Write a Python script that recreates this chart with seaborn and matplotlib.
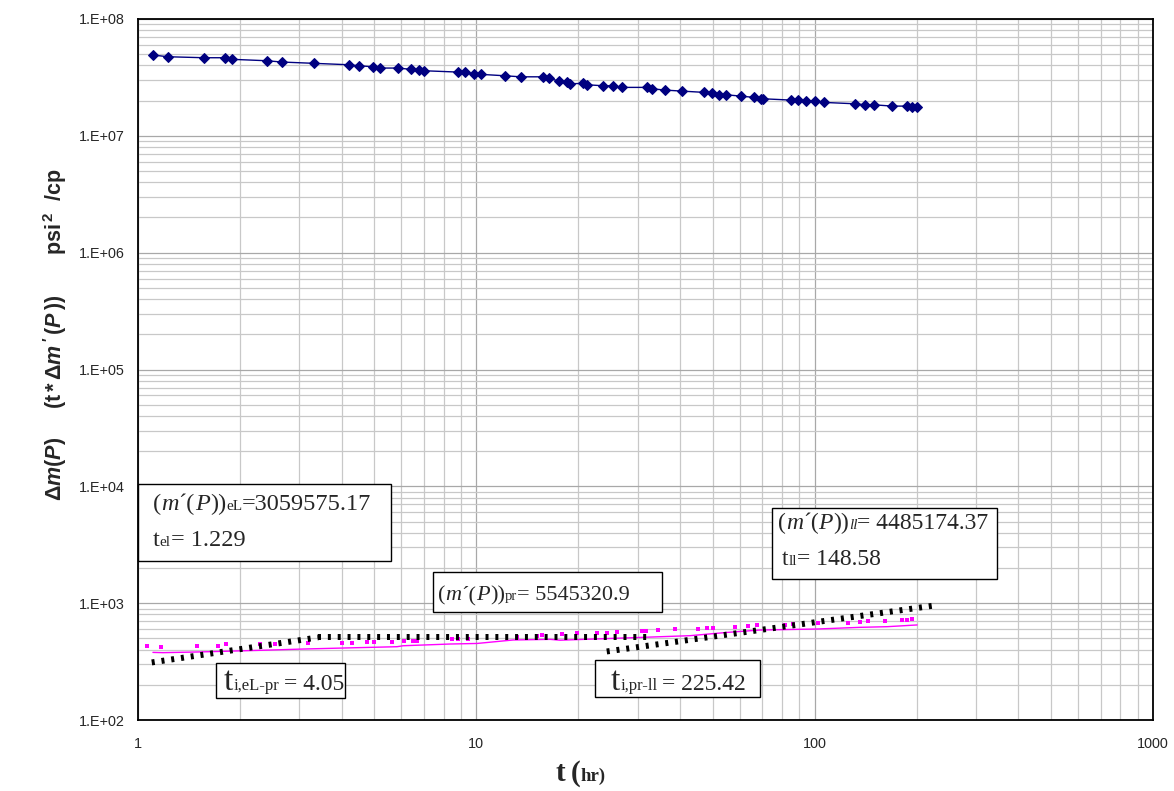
import numpy as np
import matplotlib
matplotlib.use("Agg")
import matplotlib.pyplot as plt
import seaborn as sns
from matplotlib.patches import Rectangle
from matplotlib.ticker import LogLocator, NullFormatter

# ---------------- data ----------------
# pseudo-pressure difference (blue diamonds)
t_dm = [1.110, 1.224, 1.567, 1.807, 1.900, 2.401, 2.665, 3.320, 4.196, 4.491,
        4.941, 5.192, 5.868, 6.412, 6.784, 7.019, 8.810, 9.26, 9.84, 10.33,
        12.13, 13.53, 15.78, 16.40, 17.56, 18.50, 18.92, 20.72, 21.29, 23.73,
        25.41, 27.02, 32.03, 33.13, 36.06, 40.47, 47.20, 49.63, 52.17, 54.72,
        60.58, 66.07, 69.57, 70.54, 85.0, 89.5, 94.1, 100.5, 106.6, 131.9,
        140.9, 149.8, 169.3, 187.2, 194.5, 200.4]
dm_vals = [4.915e7, 4.753e7, 4.661e7, 4.661e7, 4.516e7, 4.393e7, 4.281e7, 4.173e7, 4.059e7, 3.980e7,
           3.903e7, 3.803e7, 3.803e7, 3.707e7, 3.678e7, 3.606e7, 3.514e7, 3.514e7, 3.358e7, 3.358e7,
           3.267e7, 3.200e7, 3.200e7, 3.104e7, 2.943e7, 2.869e7, 2.790e7, 2.812e7, 2.735e7, 2.682e7,
           2.682e7, 2.598e7, 2.598e7, 2.527e7, 2.464e7, 2.415e7, 2.354e7, 2.308e7, 2.245e7, 2.245e7,
           2.188e7, 2.133e7, 2.075e7, 2.075e7, 2.023e7, 2.023e7, 1.983e7, 1.983e7, 1.932e7, 1.880e7,
           1.843e7, 1.843e7, 1.797e7, 1.797e7, 1.751e7, 1.751e7]

# derivative (magenta line)
t_der_line = [1.107, 1.185, 1.494, 1.784, 2.456, 3.075, 4.036, 5.830, 6.072, 8.36,
              10.05, 12.84, 16.52, 17.68, 30.47, 42.83, 55.11, 68.97, 101.6, 136.2,
              163.7, 200.8]
der_line = [379, 377, 382, 387, 397, 405, 413, 424, 432, 447,
            452, 484, 490, 482, 509, 527, 562, 589, 601, 621,
            629, 651]

# derivative (magenta dots)
t_der_pts = [1.065, 1.170, 1.491, 1.727, 1.820, 2.294, 2.541, 3.187, 4.018, 4.300,
             4.743, 4.995, 5.624, 6.114, 6.513, 6.692, 8.458, 8.847, 9.471, 13.17,
             15.09, 15.61, 17.89, 19.81, 22.70, 24.29, 26.00, 30.83, 31.74, 34.51,
             38.67, 45.31, 47.98, 50.19, 58.18, 63.68, 67.43, 81.7, 86.5, 102.5,
             125.8, 136.2, 144.1, 161.5, 180.9, 187.2, 193.6]
der_pts = [432, 424, 432, 432, 447, 447, 447, 456, 456, 456,
           468, 468, 468, 477, 477, 477, 490, 490, 490, 516,
           527, 537, 545, 551, 559, 559, 570, 581, 581, 589,
           601, 601, 613, 613, 629, 641, 650, 654, 663, 677,
           677, 694, 698, 708, 718, 718, 732]

# straight-line flow-regime fits (black dotted)
t_fit_eL = [1.098, 3.405]
v_fit_eL = [311, 509]
t_fit_pr = [3.405, 32.6]
v_fit_pr = [509, 509]
t_fit_ll = [24.29, 224.4]
v_fit_ll = [386, 952]

x_ticks = [1, 10, 100, 1000]
x_tick_labels = ["1", "10", "100", "1000"]
y_ticks = [1e2, 1e3, 1e4, 1e5, 1e6, 1e7, 1e8]
y_tick_labels = ["1.E+02", "1.E+03", "1.E+04", "1.E+05", "1.E+06", "1.E+07", "1.E+08"]

# ---------------- style ----------------
sns.set_style("white")
plt.rcParams["font.family"] = ["Liberation Sans", "DejaVu Sans"]
plt.rcParams["mathtext.fontset"] = "custom"
plt.rcParams["mathtext.rm"] = "Liberation Sans:bold"
plt.rcParams["mathtext.it"] = "Liberation Sans:italic:bold"
plt.rcParams["mathtext.bf"] = "Liberation Sans:bold"

W, H = 1174, 791
fig = plt.figure(figsize=(W / 100, H / 100), dpi=100)
ax = fig.add_axes([138 / W, 1 - 720 / H, (1153 - 138) / W, (720 - 19) / H])
ax.set_xscale("log")
ax.set_yscale("log")

sns.lineplot(x=t_dm, y=dm_vals, ax=ax, color="#000080", lw=1.0, marker="D",
             markersize=4.6, markeredgecolor="#000080", markerfacecolor="#000080",
             estimator=None, sort=False, zorder=4)
sns.lineplot(x=t_der_line, y=der_line, ax=ax, color="#FF00FF", lw=1.0,
             estimator=None, sort=False, zorder=3)
sns.scatterplot(x=t_der_pts, y=der_pts, ax=ax, color="#FF00FF", marker="s",
                s=6, linewidth=0, zorder=3)
for tx, vy in [(t_fit_eL, v_fit_eL), (t_fit_pr, v_fit_pr), (t_fit_ll, v_fit_ll)]:
    sns.lineplot(x=tx, y=vy, ax=ax, color="black", lw=4.3,
                 linestyle=(0, (0.5, 1.15)), estimator=None, sort=False, zorder=4)

ax.set_xlim(1, 1000)
ax.set_ylim(1e2, 1e8)
ax.set_xticks(x_ticks, labels=x_tick_labels)
ax.set_yticks(y_ticks, labels=y_tick_labels)
ax.xaxis.set_minor_locator(LogLocator(base=10, subs=np.arange(2, 10), numticks=100))
ax.yaxis.set_minor_locator(LogLocator(base=10, subs=np.arange(2, 10), numticks=100))
ax.xaxis.set_minor_formatter(NullFormatter())
ax.yaxis.set_minor_formatter(NullFormatter())
ax.tick_params(which="both", length=0)
ax.tick_params(axis="y", labelsize=10.4, pad=9.5)
ax.tick_params(axis="x", labelsize=10.4, pad=12)
ax.set_axisbelow(True)
ax.grid(True, which="major", color="#a8a8a8", lw=0.9)
ax.grid(True, which="minor", color="#c8c8c8", lw=0.9)
for sp in ax.spines.values():
    sp.set_visible(True)
    sp.set_color("black")
    sp.set_linewidth(1.3)
ax.set_xlabel("")
ax.set_ylabel("")

# ---------------- annotation boxes ----------------
renderer = fig.canvas.get_renderer()
SERIF = "Liberation Serif"


def box(x0, y0, x1, y1):
    fig.add_artist(Rectangle((x0 / W, 1 - y1 / H), (x1 - x0) / W, (y1 - y0) / H,
                             transform=fig.transFigure, facecolor="white",
                             edgecolor="black", lw=1.0, zorder=5))


def rich(x, y, parts, weight="normal"):
    for p in parts:
        if isinstance(p, (int, float)):
            x += p
            continue
        txt, size, style = p
        t = fig.text(x / W, 1 - y / H, txt, fontsize=size, style=style,
                     weight=weight, family=SERIF, ha="left", va="baseline", zorder=6)
        x += t.get_window_extent(renderer).width


box(138, 484, 391, 561)
rich(153, 510, [("(", 17.5, "normal"), ("m", 17.5, "italic"), ("\u00b4(", 17.5, "normal"),
                ("P", 17.5, "italic"), ("))", 17.5, "normal"), ("eL", 11, "normal"),
                ("=3059575.17", 17.5, "normal")])
rich(153, 546, [("t", 17.5, "normal"), ("el", 11, "normal"), ("= 1.229", 17.5, "normal")])

box(433, 572, 662, 612)
rich(438, 600, [("(", 16, "normal"), ("m", 16, "italic"), ("\u00b4(", 16, "normal"),
                ("P", 16, "italic"), ("))", 16, "normal"), ("pr", 10.5, "normal"),
                ("= 5545320.9", 16, "normal")])

box(772, 508, 997, 579)
rich(778, 529, [("(", 17, "normal"), ("m", 17, "italic"), ("\u00b4(", 17, "normal"),
                ("P", 17, "italic"), ("))", 17, "normal"), ("ll", 11, "italic"),
                ("= 4485174.37", 17, "normal")])
rich(782, 565, [("t", 17, "normal"), ("ll", 11, "normal"), ("= 148.58", 17, "normal")])

box(216, 663, 345, 698)
rich(224, 690, [("t", 24, "normal"), ("i,eL-pr", 12, "normal"), 5, ("= 4.05", 17, "normal")])

box(595, 660, 760, 697)
rich(611, 690, [("t", 24, "normal"), ("i,pr-ll", 12, "normal"), 5, ("= 225.42", 17, "normal")])

# ---------------- axis titles ----------------
ylab_parts = [
    (r"$\Delta\mathit{m}(\mathit{P})$", 469),
    (r"$(\mathrm{t}\,{*}\,\Delta\mathit{m}\,'\,(\mathit{P}\,))$", 352),
    (r"psi$^{\,2}$  /cp", 212),
]
for txt, yc in ylab_parts:
    fig.text(55 / W, 1 - yc / H, txt, rotation=90, ha="center", va="center",
             fontsize=15.5, fontweight="bold", family="Liberation Sans")

rich(556, 781, [("t", 21, "normal"), 5, ("(", 21, "normal"), ("hr)", 13.5, "normal")],
     weight="bold")

fig.savefig("out.png", dpi=100)
